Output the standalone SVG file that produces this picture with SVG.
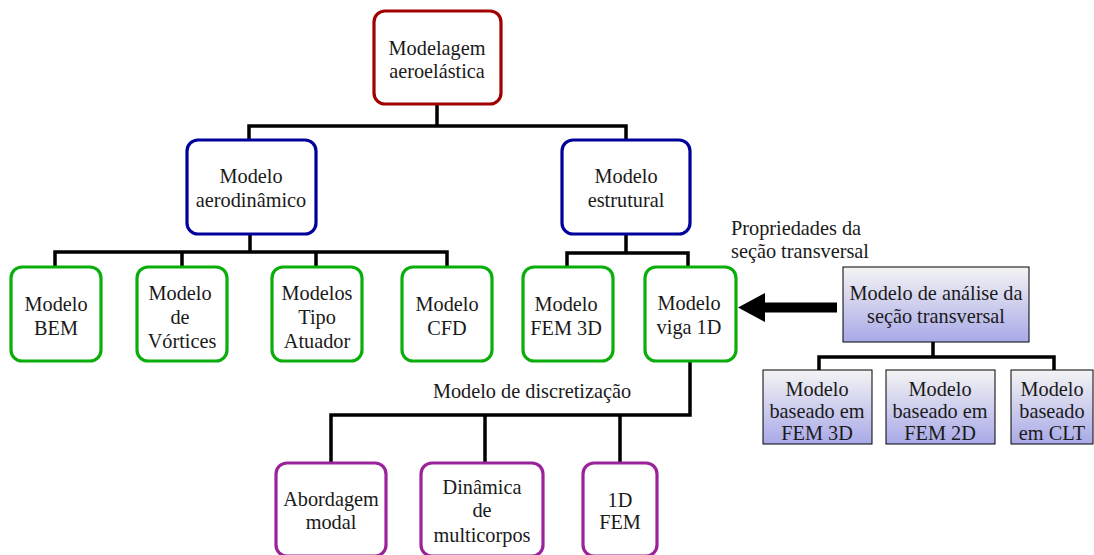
<svg xmlns="http://www.w3.org/2000/svg" width="1094" height="555" viewBox="0 0 1094 555" font-family="'Liberation Serif', 'DejaVu Serif', serif">
<defs>
<linearGradient id="g" x1="0" y1="0" x2="0" y2="1">
<stop offset="0" stop-color="#f4f4f4"/>
<stop offset="1" stop-color="#a9a9e8"/>
</linearGradient>
</defs>
<style>
text{font-family:'Liberation Serif','DejaVu Serif',serif;font-size:20.3px;fill:#1a1a1a;text-anchor:middle}
.n rect{fill:#fff;stroke-width:3.2}
.red rect{stroke:#a00000}
.blue rect{stroke:#00009a}
.green rect{stroke:#0aae0a}
.purple rect{stroke:#9a239c}
.grad rect{fill:url(#g);stroke:#000;stroke-width:1}
.c path{fill:none;stroke:#000;stroke-width:3.5}
.c polygon{fill:#000;stroke:none}
text.lbl{text-anchor:start}
</style>
<g class="c" id="connectors">
<path d="M437,104 V126 M249,141 V126 H626 V141"/>
<path d="M250,234 V252 M55,267 V252 H447 V267 M182,252 V267 M316,252 V267"/>
<path d="M626,234 V253 M567,267 V253 H688 V267"/>
<path d="M690,361 V415 H331 V462 M485,415 V462 M620,415 V462"/>
<path d="M933,342 V357 M819,370 V357 H1054 V370"/>
<polygon points="837,302.5 765,302.5 765,293 738,307.5 765,322 765,312.5 837,312.5"/>
</g>
<text id="lbl-disc" x="532" y="398">Modelo de discretização</text>
<text id="lbl-prop" class="lbl" x="731" y="235">Propriedades da</text>
<text class="lbl" x="731" y="258">seção transversal</text>
<g id="n-aeroel" class="n red"><rect x="374" y="11" width="127" height="93" rx="11"/><text x="437" y="55">Modelagem</text><text x="437" y="78">aeroelástica</text></g>
<g id="n-aerod" class="n blue"><rect x="187" y="140" width="129" height="94" rx="11"/><text x="251" y="183">Modelo</text><text x="251" y="207">aerodinâmico</text></g>
<g id="n-estr" class="n blue"><rect x="562" y="140" width="128" height="94" rx="11"/><text x="626" y="183">Modelo</text><text x="626" y="207">estrutural</text></g>
<g id="n-bem" class="n green"><rect x="11" y="267" width="90" height="94" rx="11"/><text x="56" y="311">Modelo</text><text x="56" y="335">BEM</text></g>
<g id="n-vort" class="n green"><rect x="137" y="267" width="90" height="94" rx="11"/><text x="180" y="300">Modelo</text><text x="180" y="324">de</text><text x="182" y="348">Vórtices</text></g>
<g id="n-atu" class="n green"><rect x="272" y="267" width="90" height="94" rx="11"/><text x="317" y="300">Modelos</text><text x="317" y="324">Tipo</text><text x="317" y="348">Atuador</text></g>
<g id="n-cfd" class="n green"><rect x="402" y="267" width="90" height="94" rx="11"/><text x="447" y="311">Modelo</text><text x="447" y="335">CFD</text></g>
<g id="n-fem3d" class="n green"><rect x="523" y="267" width="90" height="94" rx="11"/><text x="566" y="311">Modelo</text><text x="566" y="335">FEM 3D</text></g>
<g id="n-viga" class="n green"><rect x="645" y="267" width="91" height="94" rx="11"/><text x="689" y="310">Modelo</text><text x="689" y="334">viga 1D</text></g>
<g id="n-secao" class="grad"><rect x="843" y="267" width="186" height="75"/><text x="936" y="300">Modelo de análise da</text><text x="936" y="323">seção transversal</text></g>
<g id="n-b3d" class="grad"><rect x="763" y="370" width="109" height="74"/><text x="817" y="396">Modelo</text><text x="817" y="418">baseado em</text><text x="817" y="440">FEM 3D</text></g>
<g id="n-b2d" class="grad"><rect x="886" y="370" width="109" height="74"/><text x="940" y="396">Modelo</text><text x="940" y="418">baseado em</text><text x="940" y="440">FEM 2D</text></g>
<g id="n-clt" class="grad"><rect x="1011" y="370" width="82" height="74"/><text x="1052" y="396">Modelo</text><text x="1052" y="418">baseado</text><text x="1052" y="440">em CLT</text></g>
<g id="n-modal" class="n purple"><rect x="276" y="463" width="110" height="93" rx="11"/><text x="331" y="506">Abordagem</text><text x="331" y="529">modal</text></g>
<g id="n-multi" class="n purple"><rect x="421" y="463" width="122" height="93" rx="11"/><text x="482" y="494">Dinâmica</text><text x="482" y="517">de</text><text x="482" y="542">multicorpos</text></g>
<g id="n-1dfem" class="n purple"><rect x="583" y="463" width="74" height="93" rx="11"/><text x="620" y="507">1D</text><text x="620" y="529">FEM</text></g>
</svg>
